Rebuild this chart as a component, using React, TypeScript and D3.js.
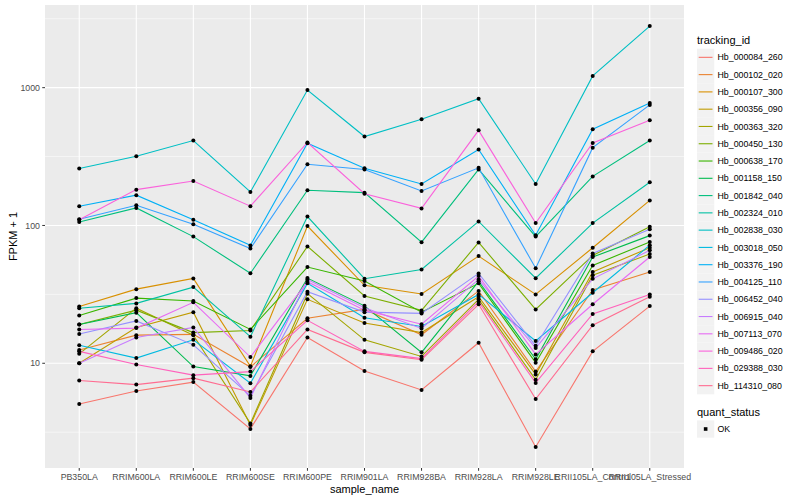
import React from 'react';
import * as d3 from 'd3';

// x categories
const samples = [
  'PB350LA', 'RRIM600LA', 'RRIM600LE', 'RRIM600SE', 'RRIM600PE', 'RRIM901LA',
  'RRIM928BA', 'RRIM928LA', 'RRIM928LE', 'RRII105LA_Control', 'RRII105LA_Stressed',
];

const trackingIds = [
  'Hb_000084_260', 'Hb_000102_020', 'Hb_000107_300', 'Hb_000356_090', 'Hb_000363_320',
  'Hb_000450_130', 'Hb_000638_170', 'Hb_001158_150', 'Hb_001842_040', 'Hb_002324_010',
  'Hb_002838_030', 'Hb_003018_050', 'Hb_003376_190', 'Hb_004125_110', 'Hb_006452_040',
  'Hb_006915_040', 'Hb_007113_070', 'Hb_009486_020', 'Hb_029388_030', 'Hb_114310_080',
];

// ggplot hue palette, 20 levels
const hueColors = [
  '#F8766D', '#EA8331', '#D89000', '#C09B00', '#A3A500', '#7CAE00', '#39B600', '#00BB4E',
  '#00BF7D', '#00C1A3', '#00BFC4', '#00BAE0', '#00B0F6', '#35A2FF', '#9590FF', '#C77CFF',
  '#E76BF3', '#FA62DB', '#FF62BC', '#FF6C91',
];

// FPKM + 1, one value per sample
const hb000084_260 = [5.07, 6.3, 7.3, 3.34, 15.4, 8.8, 6.4, 14.1, 2.47, 12.2, 26.0];
const hb000102_020 = [12.5, 16.0, 16.2, 9.4, 21.2, 24.6, 16.1, 33.5, 8.7, 34, 45.9];
const hb000107_300 = [25.8, 34.5, 41.3, 9.5, 99, 36.8, 31.8, 60, 31.6, 68.9, 152];
const hb000356_090 = [10.0, 18.2, 23.5, 3.57, 29.1, 19.6, 16.7, 30.4, 8.3, 46, 69];
const hb000363_320 = [11.7, 25.1, 16.0, 3.66, 32.0, 14.8, 11.2, 29.1, 7.6, 43.5, 62];
const hb000450_130 = [19.1, 24.3, 16.7, 17.3, 70.5, 30.8, 24.2, 75.3, 24.6, 60.6, 98];
const hb000638_170 = [22.2, 29.7, 28.3, 17.6, 49.9, 39.6, 23.5, 38, 10.1, 51.3, 76];
const hb001158_150 = [19.1, 23.3, 9.46, 8.1, 41.5, 26.1, 12.0, 39.3, 10.7, 59, 84.4];
const hb001842_040 = [106, 134, 83, 45, 180, 173, 75.6, 255, 83, 227, 413];
const hb002324_010 = [25.1, 27.2, 35.7, 15.6, 116, 41.1, 47.9, 107, 41.4, 104, 206];
const hb002838_030 = [259, 318, 413, 175, 962, 442, 589, 832, 200, 1216, 2800];
const hb003018_050 = [13.5, 10.9, 14.8, 7.16, 38, 21.4, 18.5, 31.6, 14.5, 32.5, 72];
const hb003376_190 = [138, 166, 110, 71.7, 395, 260, 200, 356, 85, 499, 775];
const hb004125_110 = [111, 140, 102, 68, 278, 255, 178, 262, 49, 367, 750];
const hb006452_040 = [16.3, 20.3, 13.6, 5.8, 33.1, 23.5, 23.0, 44.9, 13.4, 62.6, 94];
const hb006915_040 = [10.0, 15.4, 18.2, 5.6, 40.6, 25.3, 17.9, 40.6, 12.9, 41, 66];
const hb007113_070 = [17.6, 18.0, 27.7, 11.1, 39.1, 24.3, 19.2, 42.9, 11.6, 26.8, 59];
const hb009486_020 = [110, 182, 210, 138, 400, 170, 133, 490, 104, 397, 580];
const hb029388_030 = [12.2, 9.8, 8.2, 8.7, 20.5, 12.2, 10.8, 28, 7.2, 22.8, 31.6];
const hb114310_080 = [7.5, 7.0, 7.8, 6.19, 17.6, 12.0, 10.6, 26.8, 5.5, 18.9, 30.4];

const seriesValues = [
  hb000084_260, hb000102_020, hb000107_300, hb000356_090, hb000363_320,
  hb000450_130, hb000638_170, hb001158_150, hb001842_040, hb002324_010,
  hb002838_030, hb003018_050, hb003376_190, hb004125_110, hb006452_040,
  hb006915_040, hb007113_070, hb009486_020, hb029388_030, hb114310_080,
];

const yTicks = [10, 100, 1000];
const yMinor = [10 ** 0.5, 10 ** 1.5, 10 ** 2.5, 10 ** 3.5];

const W = 800;
const H = 500;
const panel = { left: 45, right: 684, top: 5, bottom: 468 };
const font = '"Liberation Sans", Arial, Helvetica, sans-serif';

export default function App() {
  const x = d3.scalePoint<string>()
    .domain(samples)
    .range([panel.left, panel.right])
    .padding(0.6);

  const all = seriesValues.flat();
  const lo = Math.log10(d3.min(all) as number);
  const hi = Math.log10(d3.max(all) as number);
  const pad = (hi - lo) * 0.05;
  const y = d3.scaleLog()
    .domain([10 ** (lo - pad), 10 ** (hi + pad)])
    .range([panel.bottom, panel.top]);

  const line = d3.line<number>()
    .x((_, i) => x(samples[i]) as number)
    .y((d) => y(d));

  const legendX = 697;
  const keyTop = 48.7;
  const keyH = 17.28;

  return (
    <svg width={W} height={H} style={{ position: 'absolute', left: 0, top: 0 }} fontFamily={font}>
      <rect width={W} height={H} fill="#fff" />
      <rect x={panel.left} y={panel.top} width={panel.right - panel.left}
        height={panel.bottom - panel.top} fill="#EBEBEB" />

      {yMinor.filter((v) => y(v) > panel.top && y(v) < panel.bottom).map((v) => (
        <line key={`mn${v}`} x1={panel.left} x2={panel.right} y1={y(v)} y2={y(v)}
          stroke="#fff" strokeWidth={0.55} />
      ))}
      {yTicks.map((v) => (
        <line key={`mj${v}`} x1={panel.left} x2={panel.right} y1={y(v)} y2={y(v)}
          stroke="#fff" strokeWidth={1.1} />
      ))}
      {samples.map((s) => (
        <line key={`vx${s}`} x1={x(s)} x2={x(s)} y1={panel.top} y2={panel.bottom}
          stroke="#fff" strokeWidth={1.1} />
      ))}

      {seriesValues.map((vals, i) => (
        <path key={trackingIds[i]} d={line(vals) as string} fill="none"
          stroke={hueColors[i]} strokeWidth={1.1} />
      ))}
      {seriesValues.map((vals, i) => vals.map((v, j) => (
        <circle key={`${i}-${j}`} cx={x(samples[j])} cy={y(v)} r={2} fill="#000" />
      )))}

      {/* y axis */}
      {yTicks.map((v) => (
        <g key={`yt${v}`}>
          <line x1={panel.left - 2.75} x2={panel.left} y1={y(v)} y2={y(v)} stroke="#333" strokeWidth={1} />
          <text x={panel.left - 5} y={y(v)} dy="0.35em" textAnchor="end" fontSize={8.8} fill="#4D4D4D">{v}</text>
        </g>
      ))}
      <text transform={`translate(17, ${(panel.top + panel.bottom) / 2}) rotate(-90)`}
        textAnchor="middle" fontSize={11} fill="#000">FPKM + 1</text>

      {/* x axis */}
      {samples.map((s) => (
        <g key={`xt${s}`}>
          <line x1={x(s)} x2={x(s)} y1={panel.bottom} y2={panel.bottom + 2.75} stroke="#333" strokeWidth={1} />
          <text x={x(s)} y={480} textAnchor="middle" fontSize={8.8} fill="#4D4D4D">{s}</text>
        </g>
      ))}
      <text x={(panel.left + panel.right) / 2} y={493} textAnchor="middle" fontSize={11} fill="#000">sample_name</text>

      {/* legend: tracking_id */}
      <text x={legendX} y={44} fontSize={11} fill="#000">tracking_id</text>
      {trackingIds.map((id, i) => {
        const ky = keyTop + i * keyH;
        return (
          <g key={`lg${id}`}>
            <rect x={legendX} y={ky} width={17.28} height={17.28} fill="#F2F2F2" />
            <line x1={legendX + 1.7} x2={legendX + 15.5} y1={ky + keyH / 2} y2={ky + keyH / 2}
              stroke={hueColors[i]} strokeWidth={1.1} />
            <text x={legendX + 20.5} y={ky + keyH / 2} dy="0.35em" fontSize={8.8} fill="#000">{id}</text>
          </g>
        );
      })}

      {/* legend: quant_status */}
      <text x={legendX} y={416} fontSize={11} fill="#000">quant_status</text>
      <rect x={legendX} y={420.4} width={17.28} height={17.28} fill="#F2F2F2" />
      <rect x={legendX + 8.64 - 1.8} y={429 - 1.8} width={3.6} height={3.6} fill="#000" />
      <text x={legendX + 20.5} y={429} dy="0.35em" fontSize={8.8} fill="#000">OK</text>
    </svg>
  );
}
